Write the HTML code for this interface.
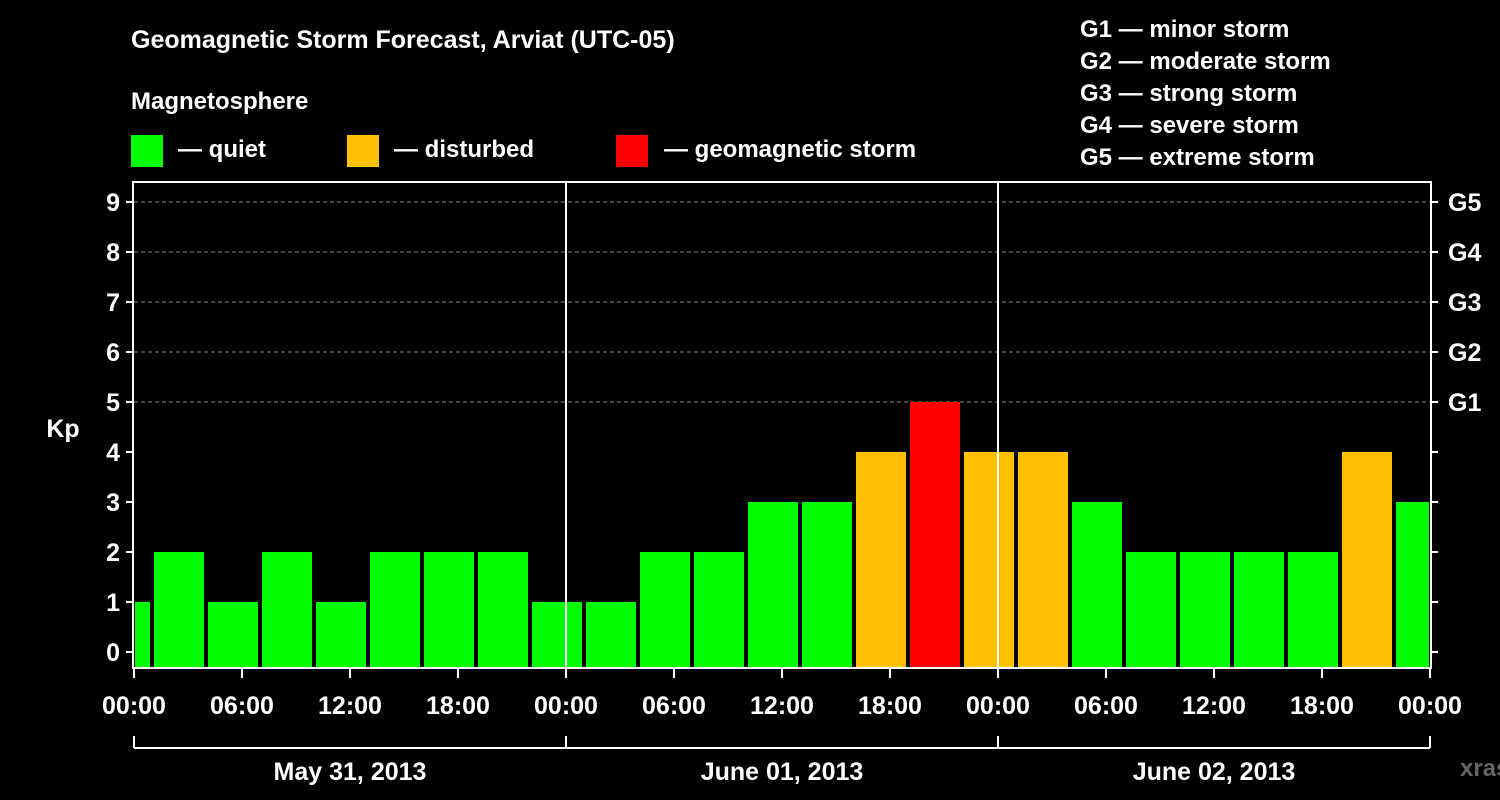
<!DOCTYPE html>
<html><head><meta charset="utf-8"><style>
body{margin:0;background:#000;}
svg{display:block;font-family:"Liberation Sans",Arial,sans-serif;font-weight:bold;}
</style></head><body>
<svg id="chart" width="1500" height="800" viewBox="0 0 1500 800">
<rect width="1500" height="800" fill="#000"/>
<text x="131" y="48" fill="#fff" font-size="25">Geomagnetic Storm Forecast, Arviat (UTC-05)</text>
<text x="131" y="109" fill="#fff" font-size="24">Magnetosphere</text>
<g><rect x="131" y="135" width="32" height="32" fill="#00ff00"/><text x="178" y="157" fill="#fff" font-size="24">— quiet</text></g>
<g><rect x="347" y="135" width="32" height="32" fill="#ffc000"/><text x="394" y="157" fill="#fff" font-size="24">— disturbed</text></g>
<g><rect x="616" y="135" width="32" height="32" fill="#ff0000"/><text x="664" y="157" fill="#fff" font-size="24">— geomagnetic storm</text></g>
<g fill="#fff" font-size="24">
<text x="1080" y="37">G1 — minor storm</text>
<text x="1080" y="69">G2 — moderate storm</text>
<text x="1080" y="101">G3 — strong storm</text>
<text x="1080" y="133">G4 — severe storm</text>
<text x="1080" y="165">G5 — extreme storm</text>
</g>
<text x="63" y="437" fill="#fff" font-size="25" text-anchor="middle">Kp</text>
<text x="1460" y="776" fill="#666" font-size="24">xras.ru</text>
<g id="plot"></g>
</svg>
<script>
const kpValues=[1,2,1,2,1,2,2,2,1,1,2,2,3,3,4,5,4,4,3,2,2,2,2,4,3];
const firstBarHour=-2;
const xTickLabels=["00:00","06:00","12:00","18:00","00:00","06:00","12:00","18:00","00:00","06:00","12:00","18:00","00:00"];
const dayLabels=["May 31, 2013","June 01, 2013","June 02, 2013"];
const gLabels=["G1","G2","G3","G4","G5"];
const yTicks=[0,1,2,3,4,5,6,7,8,9];
const X0=134,X1=1430,Y0=652,PT=182,PB=668,totalHours=72;
const xs=h=>X0+(X1-X0)*h/totalHours;
const ys=v=>Y0-50*v;
const ns="http://www.w3.org/2000/svg";
const g=document.getElementById('plot');
function mk(t,a){const e=document.createElementNS(ns,t);for(const k in a)e.setAttribute(k,a[k]);g.appendChild(e);return e;}
function col(v){return v>=5?"#ff0000":v>=4?"#ffc000":"#00ff00";}
// grid
yTicks.forEach(v=>{if(v>=5){const l=mk('line',{x1:X0,x2:X1,y1:ys(v),y2:ys(v),stroke:'#888','stroke-dasharray':'4,3','stroke-width':1});}});
// bars
kpValues.forEach((v,i)=>{const h0=firstBarHour+3*i;let a=xs(h0)+2,b=xs(h0+3)-2;a=Math.max(a,X0+1);b=Math.min(b,X1-1);
const r=mk('rect',{x:a,y:ys(v),width:b-a,height:PB-ys(v),fill:col(v)});

});
// day separators
[24,48].forEach(h=>{const l=mk('line',{x1:xs(h),x2:xs(h),y1:PT,y2:PB,stroke:'#fff','stroke-width':2});});
// frame
const f=mk('rect',{x:X0-1,y:PT,width:X1-X0+2,height:PB-PT,fill:'none',stroke:'#fff','stroke-width':2});


// y ticks
yTicks.forEach(v=>{mk('line',{x1:X0-8,x2:X0,y1:ys(v),y2:ys(v),stroke:'#fff','stroke-width':2});mk('line',{x1:X1,x2:X1+8,y1:ys(v),y2:ys(v),stroke:'#fff','stroke-width':2});
const t=mk('text',{x:X0-14,y:ys(v)+9,fill:'#fff','font-size':25,'text-anchor':'end'});t.textContent=v;

});
gLabels.forEach((s,i)=>{const t=mk('text',{x:1448,y:ys(5+i)+9,fill:'#fff','font-size':25});t.textContent=s;

});
// x ticks
xTickLabels.forEach((s,i)=>{const x=xs(6*i);mk('line',{x1:x,x2:x,y1:PB,y2:PB+10,stroke:'#fff','stroke-width':2});
const t=mk('text',{x:x,y:714,fill:'#fff','font-size':25,'text-anchor':'middle'});t.textContent=s;

});
// day bracket
mk('line',{x1:X0,x2:X1,y1:748,y2:748,stroke:'#fff','stroke-width':2});
[0,24,48,72].forEach(h=>mk('line',{x1:xs(h),x2:xs(h),y1:736,y2:748,stroke:'#fff','stroke-width':2}));
dayLabels.forEach((s,i)=>{const t=mk('text',{x:xs(24*i+12),y:780,fill:'#fff','font-size':25,'text-anchor':'middle'});t.textContent=s;

});
</script>
</body></html>
